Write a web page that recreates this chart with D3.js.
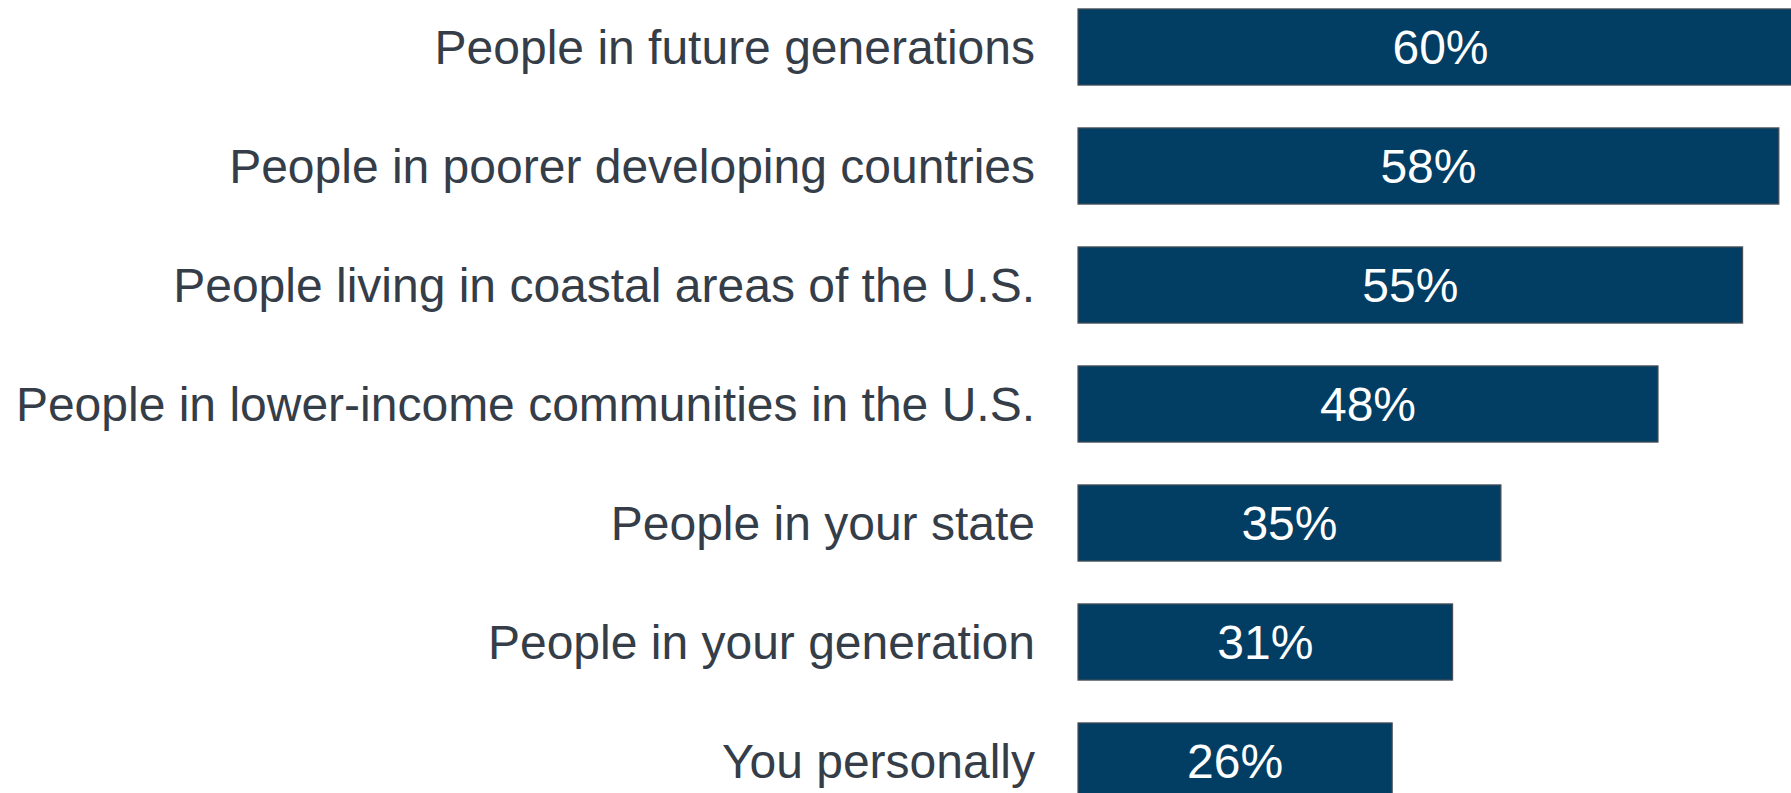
<!DOCTYPE html>
<html>
<head>
<meta charset="utf-8">
<script src="https://cdn.jsdelivr.net/npm/d3@7"></script>
<style>
  html, body { margin: 0; padding: 0; background: #ffffff; overflow: hidden; }
  svg { display: block; font-family: "Liberation Sans", Arial, sans-serif; }
</style>
</head>
<body>
<div id="chart"></div>
<script>
// Categories, top to bottom
const categories = [
    "People in future generations",
    "People in poorer developing countries",
    "People living in coastal areas of the U.S.",
    "People in lower-income communities in the U.S.",
    "People in your state",
    "People in your generation",
    "You personally"
];

// Percent values for each category
const values = [60, 58, 55, 48, 35, 31, 26];

const width = 1791;
const height = 793;

const svg = d3.select("#chart")
    .append("svg")
    .attr("width", width)
    .attr("height", height);

const xScale = d3.scaleLinear()
    .domain([0, 60])
    .range([1078, 1803]);

// step is about 119px, bar about 76px tall
const yScale = d3.scaleBand()
    .domain(categories)
    .range([-12.5, 820.5])
    .paddingInner(0.36)
    .paddingOuter(0.18);

const data = categories.map((c, i) => ({ label: c, value: values[i] }));

// Bars
svg.selectAll("rect.bar")
    .data(data)
    .enter()
    .append("rect")
    .attr("class", "bar")
    .attr("x", xScale(0))
    .attr("y", d => yScale(d.label))
    .attr("width", d => xScale(d.value) - xScale(0))
    .attr("height", yScale.bandwidth())
    .attr("fill", "#023d63")
    .attr("stroke", "#4a4f57")
    .attr("stroke-width", 1.2);

// Value labels inside bars
svg.selectAll("text.value")
    .data(data)
    .enter()
    .append("text")
    .attr("class", "value")
    .attr("x", d => (xScale(0) + xScale(d.value)) / 2)
    .attr("y", d => yScale(d.label) + yScale.bandwidth() / 2)
    .attr("dy", "0.36em")
    .attr("text-anchor", "middle")
    .attr("font-family", "\"Liberation Sans\", Arial, sans-serif")
    .attr("font-size", "48px")
    .attr("fill", "#ffffff")
    .text(d => `${d.value}%`);

// Category labels, right aligned left of bars
const yAxis = d3.axisLeft(yScale).tickSize(0).tickPadding(0);

const axisG = svg.append("g")
    .attr("class", "y-axis")
    .attr("transform", `translate(1035, 0)`)
    .call(yAxis);

axisG.select(".domain").remove();
axisG.selectAll("text")
    .attr("dy", "0.36em")
    .attr("font-family", "\"Liberation Sans\", Arial, sans-serif")
    .attr("font-size", "48px")
    .attr("fill", "#343d48");
</script>
</body>
</html>
